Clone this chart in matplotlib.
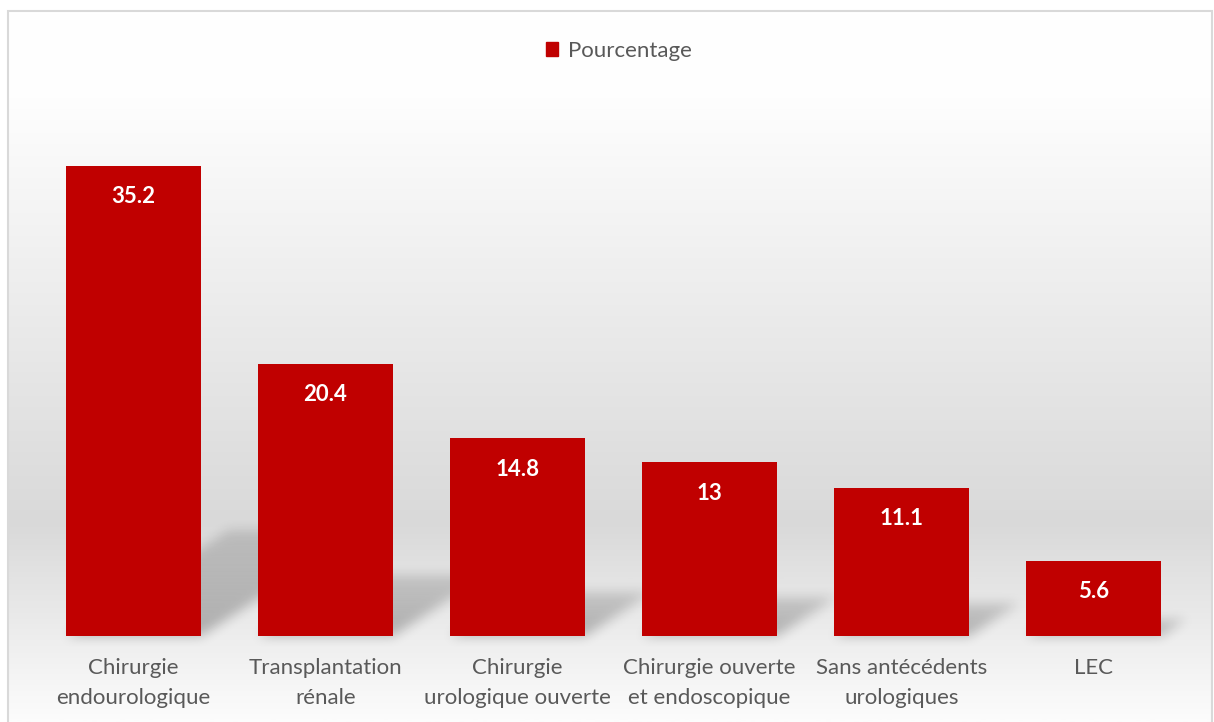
import numpy as np
import matplotlib
matplotlib.use("Agg")
import matplotlib.pyplot as plt
from matplotlib.patches import Rectangle, Patch
from matplotlib.path import Path
from matplotlib.colors import LinearSegmentedColormap

categories = ["Chirurgie\nendourologique", "Transplantation\nrénale",
              "Chirurgie\nurologique ouverte", "Chirurgie ouverte\net endoscopique",
              "Sans antécédents\nurologiques", "LEC"]
values = [35.2, 20.4, 14.8, 13, 11.1, 5.6]
labels = ["35.2", "20.4", "14.8", "13", "11.1", "5.6"]
series_name = "Pourcentage"

W, H = 1214, 722
bar_color = "#C00000"
text_color = "#595959"
plt.rcParams['font.family'] = ['Lato', 'DejaVu Sans']

fig = plt.figure(figsize=(W / 100, H / 100), dpi=100)

# background gradient (white -> light gray -> white), top to bottom
bg = fig.add_axes([0, 0, 1, 1], zorder=0)
bg.set_axis_off()
cmap = LinearSegmentedColormap.from_list(
    "bg", [(0, "#FFFFFF"), (0.12, "#FEFEFE"), (0.72, "#D9D9D9"), (1.0, "#FCFCFC")])
top_frac = 1 - 11 / H
grad = np.linspace(0, 1, 400).reshape(-1, 1)
bg.imshow(grad, aspect="auto", cmap=cmap, extent=[8 / W, 1212 / W, 0, top_frac],
          vmin=0, vmax=1, interpolation="bilinear", origin="upper")
bg.set_xlim(0, 1)
bg.set_ylim(0, 1)
bg.add_patch(Rectangle((8 / W, -0.01), 1204 / W, top_frac + 0.01, fill=False,
                       edgecolor="#D9D9D9", lw=1.5))

ax = fig.add_axes([37.5 / W, (H - 636) / H, 1152 / W, 534 / H], zorder=1)
ax.patch.set_alpha(0)
x = np.arange(len(values))
width = 0.703
ax.set_xlim(-0.5, len(values) - 0.5)
ax.set_ylim(0, 40)


def box_blur(a, r):
    for axis in (0, 1):
        pad = [(0, 0), (0, 0)]
        pad[axis] = (r + 1, r)
        c = np.cumsum(np.pad(a, pad, mode="edge"), axis=axis)
        if axis == 0:
            a = (c[2 * r + 1:] - c[:-2 * r - 1]) / (2 * r + 1)
        else:
            a = (c[:, 2 * r + 1:] - c[:, :-2 * r - 1]) / (2 * r + 1)
    return a


# soft perspective shadows, rasterised then blurred
k, s = 0.024, 0.225
yy, xx = np.mgrid[0:H, 0:W] + 0.5
grid = np.column_stack([xx.ravel(), yy.ravel()])
mask = np.zeros((H, W))
for xi, v in zip(x, values):
    pts = np.array([[xi - width / 2, 0], [xi + width / 2, 0],
                    [xi + width / 2 + k * v, s * v], [xi - width / 2 + k * v, s * v]])
    disp = ax.transData.transform(pts)
    inside = Path(disp).contains_points(grid).reshape(H, W)
    y0, y1 = disp[0, 1], disp[2, 1]
    fade = np.clip(1 - 0.45 * (yy - y0) / (y1 - y0), 0, 1)
    mask = np.maximum(mask, inside * fade)
for _ in range(3):
    mask = box_blur(mask, 5)
shadow = np.zeros((H, W, 4))
shadow[..., 3] = 0.26 * mask
bg.imshow(shadow, extent=[0, 1, 0, 1], origin="lower", aspect="auto",
          interpolation="nearest", zorder=1)

bars = ax.bar(x, values, width=width, color=bar_color, zorder=3)
for b, lab in zip(bars, labels):
    ax.text(b.get_x() + b.get_width() / 2, b.get_height() - 2.3, lab,
            ha="center", va="center", color="white", fontsize=16,
            fontweight="bold", zorder=4)

ax.set_yticks([])
ax.set_xticks(x)
ax.set_xticklabels(categories, fontsize=16, color=text_color, linespacing=1.6)
ax.tick_params(axis="x", length=0, pad=16)
for sp in ax.spines.values():
    sp.set_visible(False)

fig.legend(handles=[Patch(color=bar_color, label=series_name)], loc="center",
           bbox_to_anchor=(619 / W, 1 - 51 / H), frameon=False, fontsize=16,
           handlelength=0.55, handleheight=0.55, handletextpad=0.45,
           labelcolor=text_color)

fig.savefig("out.png", dpi=100)
